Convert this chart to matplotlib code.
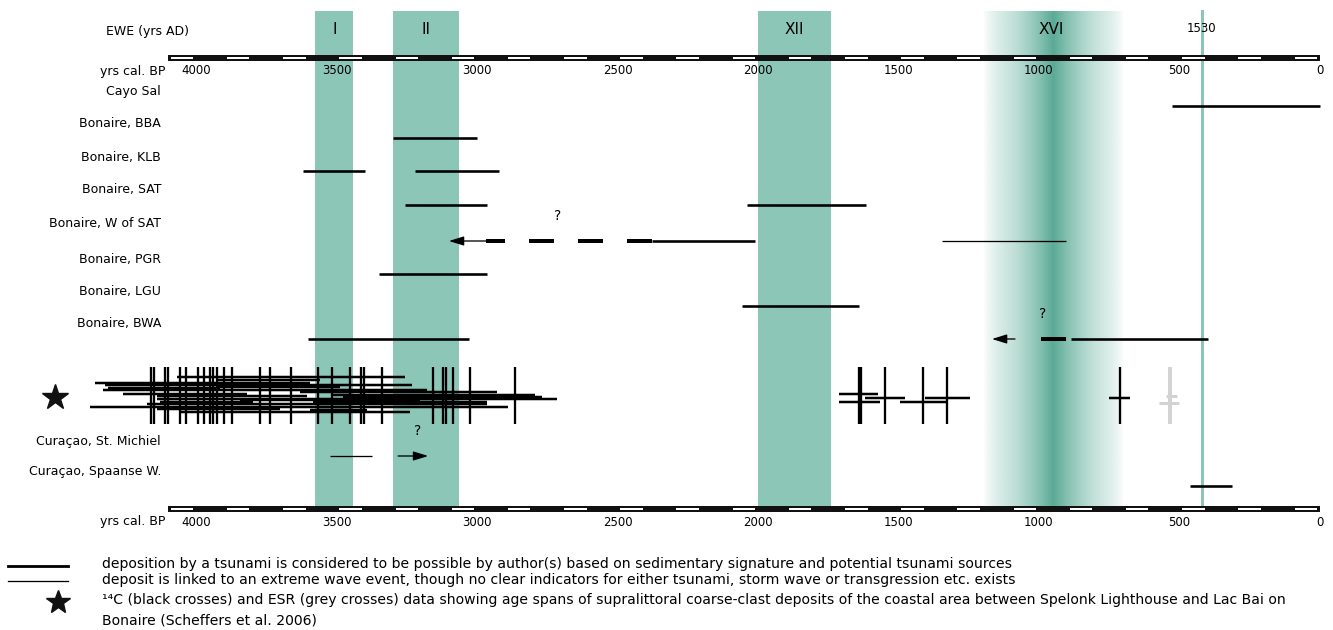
import numpy as np
import matplotlib.pyplot as plt
from matplotlib.colors import to_rgb

plt.rcParams['font.family'] = ['DejaVu Sans']
plt.rcParams['lines.scale_dashes'] = False

# ---------------- data (yrs cal. BP) ----------------
sites = ["Cayo Sal", "Bonaire, BBA", "Bonaire, KLB", "Bonaire, SAT", "Bonaire, W of SAT",
         "Bonaire, PGR", "Bonaire, LGU", "Bonaire, BWA", "Curaçao, St. Michiel",
         "Curaçao, Spaanse W."]

# deposition by tsunami possible (thick lines)
tsu_site = [0, 1, 2, 2, 3, 3, 4, 5, 6, 7, 7, 9]
tsu_old = [525, 3300, 3620, 3220, 3255, 2040, 2377, 3350, 2055, 3600, 886, 462]
tsu_young = [0, 3000, 3400, 2920, 2965, 1615, 2011, 2965, 1640, 3030, 398, 313]

# linked to an extreme wave event (thin lines)
ewe_site = [4, 8]
ewe_old = [1345, 3525]
ewe_young = [905, 3375]

# uncertain extension (dashed)
dash_site = [4, 7]
dash_old = [2968, 993]
dash_young = [2377, 904]

# arrows (from -> to)
arr_site = [4, 7, 8]
arr_from = [2968, 1085, 3281]
arr_to = [3100, 1167, 3174]

# question marks
q_site = [4, 7, 8]
q_age = [2712, 986, 3213]

# extreme wave events (bands)
band_names = ["I", "II", "XII"]
band_old = [3575, 3300, 2000]
band_young = [3440, 3065, 1740]
xvi_old, xvi_peak, xvi_young = 1200, 950, 700
ad1530 = 1950 - 1530

# 14C crosses (Scheffers et al. 2006)
c14_mid = [4160, 4149, 4110, 4100, 4057, 4036, 3993, 3972, 3950, 3939, 3925, 3900, 3872,
           3772, 3737, 3662, 3566, 3516, 3452, 3413, 3402, 3338, 3157, 3121, 3110, 3085,
           3025, 2865, 1640, 1632, 1548, 1413, 1327, 711]
c14_old = [4068, 3922, 4359, 4324, 3922, 4313, 4331, 3630, 4260, 3512, 4139, 3477, 4139,
           3843, 4128, 3584, 4174, 4377, 4139, 3594, 4057,
           1712, 1712, 1619, 1494, 1405, 751]
c14_young = [3256, 3559, 3594, 3231, 3488, 3915, 3178, 2929, 3818, 2794, 3605, 2769, 2715,
             3203, 3797, 2964, 2964, 2890, 3701, 3391, 3238,
             1573, 1566, 1477, 1324, 1245, 676]
c14_level = [377, 380, 383, 385, 387, 388, 390, 392, 394, 395, 396, 397, 399,
             400, 402, 402, 404, 407, 409, 410, 412,
             394, 402, 398, 402, 398, 398]
# ESR crosses
esr_mid = [534]
esr_old = [548, 573]
esr_young = [509, 502]
esr_level = [396, 403]

ticks = [4000, 3500, 3000, 2500, 2000, 1500, 1000, 500, 0]

# ---------------- layout ----------------
line_y = [106, 138, 171, 205, 241, 274, 306, 339, 456, 486]
label_y = [91, 124, 157, 190, 224, 260, 292, 324, 441, 472]
band_top, band_bot = 11, 507
cross_top, cross_bot = 367, 424

GREEN = "#8cc6b7"
DARK = "#5aaa96"
PX = 72 / 100  # points per pixel

fig = plt.figure(figsize=(13.33, 6.3), dpi=100)
ax = fig.add_axes([0, 0, 1, 1])
ax.set_axis_off()
lab = ax.get_yaxis_transform()

# bands
for name, o, y in zip(band_names, band_old, band_young):
    ax.fill_betweenx([band_top, band_bot], o, y, color=GREEN, lw=0, zorder=1)
    ax.text((o + y) / 2, 30, name, ha="center", va="center", fontsize=11, zorder=5)

xs = np.linspace(xvi_old, xvi_young, 400)
t = np.where(xs > xvi_peak, (xs - xvi_peak) / (xvi_old - xvi_peak),
             (xvi_peak - xs) / (xvi_peak - xvi_young))
alpha = np.clip(1 - t, 0, 1) ** 0.75
w = np.clip(1 - t / 0.6, 0, 1) ** 1.3
c0, c1 = np.array(to_rgb(GREEN)), np.array(to_rgb(DARK))
rgba = np.zeros((1, len(xs), 4))
rgba[0, :, :3] = c0 * (1 - w[:, None]) + c1 * w[:, None]
rgba[0, :, 3] = alpha
ax.imshow(rgba, extent=(xvi_old, xvi_young, band_bot, band_top), aspect="auto",
          interpolation="bilinear", zorder=1)
ax.text(xvi_peak + 6, 30, "XVI", ha="center", va="center", fontsize=11, zorder=5)

ax.plot([ad1530, ad1530], [band_top, band_bot], color=GREEN, lw=3 * PX, zorder=1)
ax.text(ad1530, 29, "1530", ha="center", va="center", fontsize=8.5, zorder=5)

# scale bars (top and bottom)
for yb, yt in [(58, 71), (509, 522)]:
    ax.plot([4100, 0], [yb, yb], color="#111111", lw=6 * PX, solid_capstyle="butt", zorder=4)
    for s in range(4100, 0, -200):
        ax.plot([s - 10, s - 90], [yb, yb], color="white", lw=2 * PX,
                solid_capstyle="butt", zorder=5)
    for tk in ticks:
        ax.text(tk, yt, str(tk), ha="center", va="center", fontsize=8.5, zorder=5)
    ax.text(165 / 1333, yt, "yrs cal. BP", transform=lab, ha="right", va="center", fontsize=9)

ax.text(189 / 1333, 31, "EWE (yrs AD)", transform=lab, ha="right", va="center", fontsize=9)

# site labels
for name, y in zip(sites, label_y):
    ax.text(161 / 1333, y, name, transform=lab, ha="right", va="center", fontsize=9)

# deposits
for s, o, y in zip(tsu_site, tsu_old, tsu_young):
    ax.plot([o, y], [line_y[s]] * 2, color="black", lw=2.6 * PX, solid_capstyle="butt", zorder=6)
for s, o, y in zip(ewe_site, ewe_old, ewe_young):
    ax.plot([o, y], [line_y[s]] * 2, color="black", lw=1.3 * PX, solid_capstyle="butt", zorder=6)
for s, o, y in zip(dash_site, dash_old, dash_young):
    ax.plot([y, o], [line_y[s]] * 2, color="black", lw=4 * PX, dash_capstyle="butt",
            linestyle=(0, (25 * PX, 24 * PX)), zorder=6)
for s, a, b in zip(arr_site, arr_from, arr_to):
    ax.annotate("", xy=(b, line_y[s]), xytext=(a, line_y[s]), zorder=6,
                arrowprops=dict(arrowstyle="-|>,head_length=0.9,head_width=0.28",
                                color="black", lw=1.3 * PX, shrinkA=0, shrinkB=0))
for s, a in zip(q_site, q_age):
    ax.text(a, line_y[s] - 25, "?", ha="center", va="center", fontsize=10, zorder=6)

# 14C / ESR crosses
ax.vlines(c14_mid, cross_top, cross_bot, color="black", lw=2.3 * PX, zorder=6)
ax.hlines(c14_level, c14_old, c14_young, color="black", lw=2.5 * PX, zorder=6)
ax.vlines(esr_mid, cross_top, cross_bot, color="#d3d3d3", lw=4 * PX, zorder=6)
ax.hlines(esr_level, esr_old, esr_young, color="#d3d3d3", lw=3 * PX, zorder=6)
ax.plot([55 / 1333], [397], marker="*", ms=19, color="#111111", transform=lab, zorder=6)

# legend
ax.plot([8 / 1333, 68 / 1333], [566, 566], color="black", lw=2.8 * PX, transform=lab)
ax.plot([8 / 1333, 68 / 1333], [581, 581], color="black", lw=1.3 * PX, transform=lab)
ax.plot([58 / 1333], [602], marker="*", ms=18, color="#111111", transform=lab)
legend_txt = [
    (564, "deposition by a tsunami is considered to be possible by author(s) based on "
          "sedimentary signature and potential tsunami sources"),
    (580, "deposit is linked to an extreme wave event, though no clear indicators for either "
          "tsunami, storm wave or transgression etc. exists"),
    (600, "¹⁴C (black crosses) and ESR (grey crosses) data showing age spans of supralittoral "
          "coarse-clast deposits of the coastal area between Spelonk Lighthouse and Lac Bai on"),
    (621, "Bonaire (Scheffers et al. 2006)"),
]
for y, s in legend_txt:
    ax.text(102 / 1333, y, s, transform=lab, ha="left", va="center", fontsize=10.1)

ax.set_xlim(4698, -47)
ax.set_ylim(630, 0)

fig.savefig("out.png", dpi=100)
